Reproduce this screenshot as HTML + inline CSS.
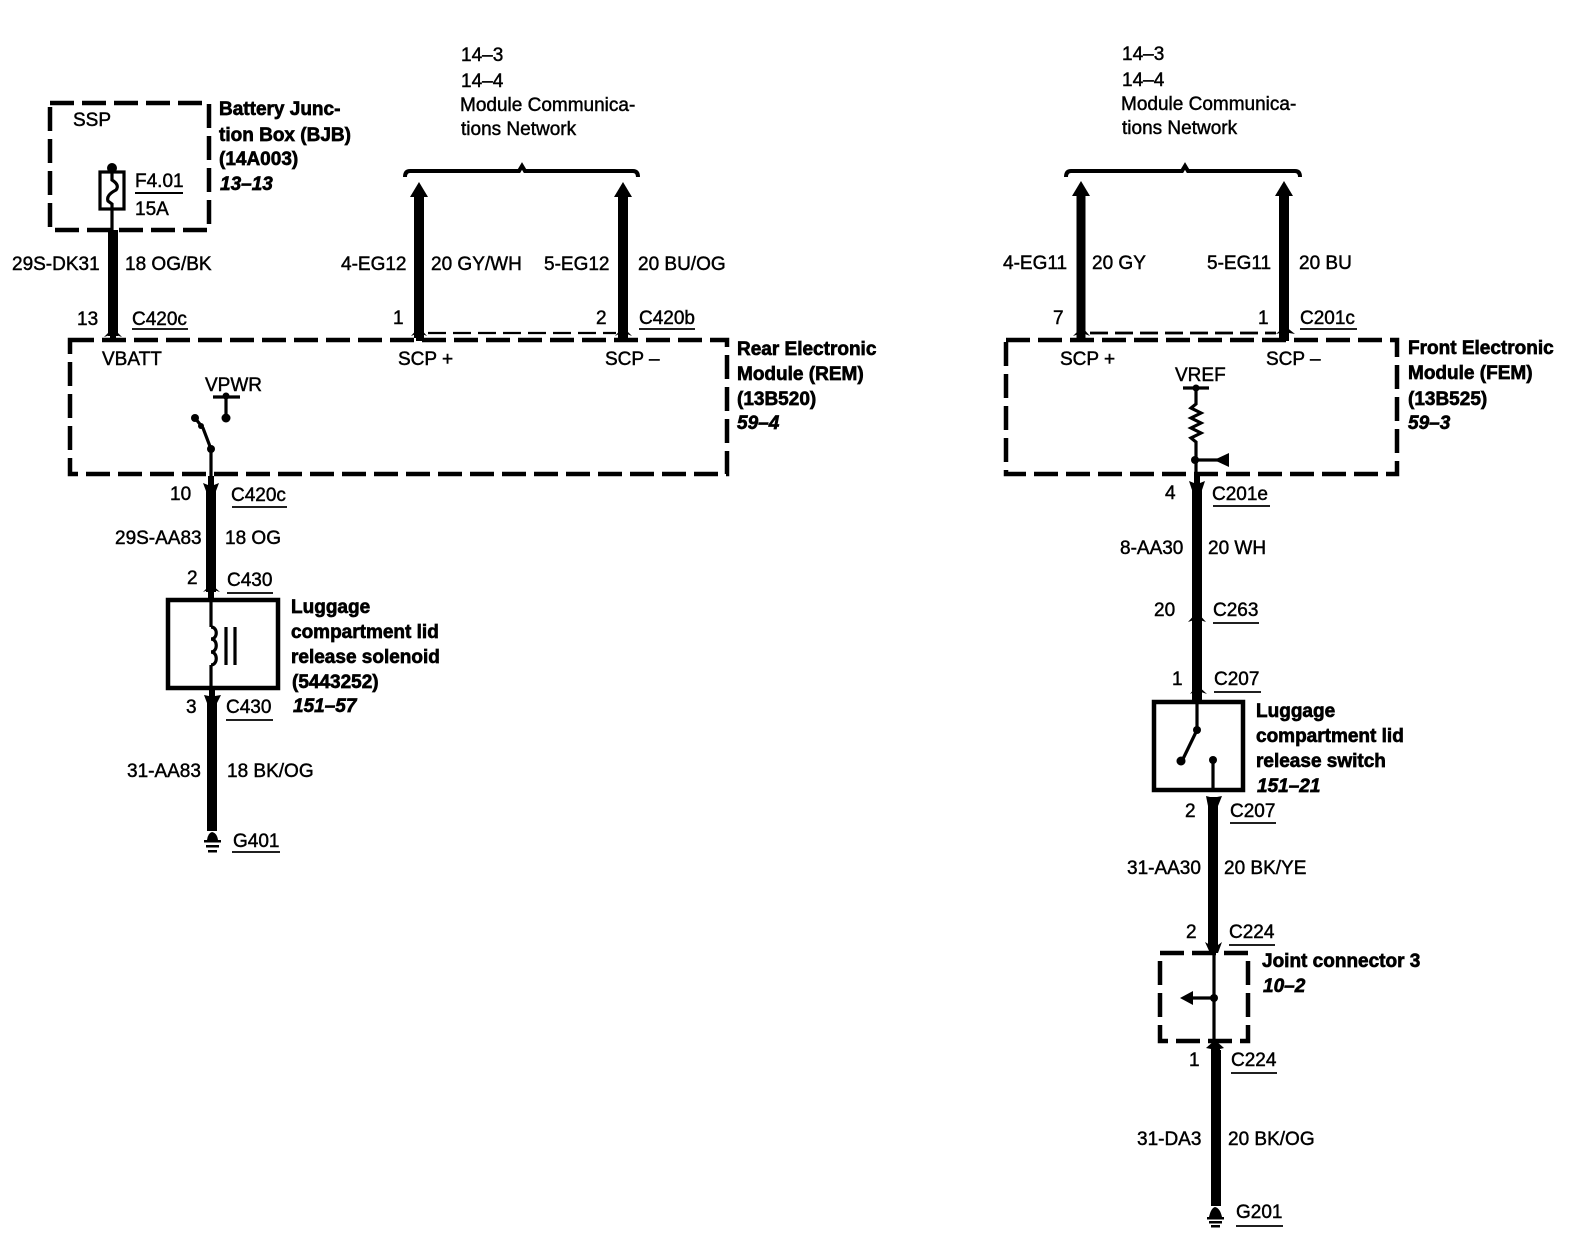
<!DOCTYPE html>
<html><head><meta charset="utf-8"><style>
html,body{margin:0;padding:0;background:#fff}
svg{display:block}
text{font-family:"Liberation Sans",sans-serif;font-size:19px;fill:#000;stroke:#000;stroke-width:.45px}
.b{font-weight:bold;stroke-width:.65px}
.i{font-weight:bold;font-style:italic;stroke-width:.65px}
.w{stroke:#000;stroke-width:10;fill:none}
.t{stroke:#000;stroke-width:3.2;fill:none}
.n{stroke:#000;stroke-width:2;fill:none}
.d{stroke:#000;stroke-width:4.5;fill:none;stroke-dasharray:24 8}
.f{stroke:none;fill:#000}
</style></head><body>
<svg width="1570" height="1248" viewBox="0 0 1570 1248" xmlns="http://www.w3.org/2000/svg">
<!-- Dashed boxes -->
<rect class="d" x="50" y="103" width="159" height="127"/>
<rect class="d" x="70" y="340" width="657" height="134"/>
<rect class="d" x="1006" y="340" width="391" height="134"/>
<rect class="d" x="1160" y="953" width="88" height="88"/>

<!-- BJB fuse -->
<circle class="f" cx="112" cy="168" r="5"/>
<line class="t" x1="112" y1="168" x2="112" y2="230"/>
<rect x="100" y="172" width="24" height="37" fill="#fff" stroke="#000" stroke-width="3.2"/>
<path class="t" d="M112 172 V180 Q120 185 116 190 Q106 195 108 201 L112 204 V209"/>
<line class="n" x1="135" y1="193" x2="183" y2="193"/>

<!-- VBATT wire -->
<line class="w" x1="113" y1="230" x2="113" y2="336"/>
<path class="f" d="M104 337 L113 328 L122 337 L116 335 V341 H110 V335 Z"/>

<!-- REM SCP wires and arrows -->
<line class="w" x1="419" y1="195" x2="419" y2="338"/>
<path class="f" d="M419 182 L428 197 H410 Z"/>
<path class="f" d="M411 336 L419 327 L427 336 L422 334 V341 H416 V334 Z"/>
<line class="w" x1="623" y1="195" x2="623" y2="338"/>
<path class="f" d="M623 182 L632 197 H614 Z"/>
<path class="f" d="M615 336 L623 327 L632 336 L627 334 V341 H619 V334 Z"/>
<line x1="428" y1="333" x2="616" y2="333" stroke="#000" stroke-width="2.2" stroke-dasharray="18 7"/>
<path d="M405 177 Q405 171 410 171 H519 L522 166 L525 171 H633 Q638 171 638 177" fill="none" stroke="#000" stroke-width="4"/>

<!-- FEM SCP wires and arrows -->
<line class="w" x1="1081" y1="195" x2="1081" y2="338" style="stroke-width:9"/>
<path class="f" d="M1081 181 L1090 196 H1072 Z"/>
<path class="f" d="M1073 336 L1082 327 L1090 336 L1085 334 V341 H1079 V334 Z"/>
<line class="w" x1="1284" y1="195" x2="1284" y2="338"/>
<path class="f" d="M1284 181 L1293 196 H1275 Z"/>
<path class="f" d="M1276 334 L1285 326 L1295 334 L1289 333 V341 H1280 V333 Z"/>
<line x1="1090" y1="333" x2="1276" y2="333" stroke="#000" stroke-width="2.8" stroke-dasharray="18 7"/>
<path d="M1066 177 Q1066 171 1071 171 H1182 L1185 166 L1188 171 H1295 Q1300 171 1300 177" fill="none" stroke="#000" stroke-width="4"/>

<!-- VPWR and switch -->
<line class="t" x1="213" y1="397" x2="240" y2="397"/>
<line class="t" x1="226" y1="397" x2="226" y2="418"/>
<circle class="f" cx="226" cy="396" r="3.5"/>
<circle class="f" cx="226" cy="418" r="4.5"/>
<circle class="f" cx="195" cy="418" r="4"/>
<circle class="f" cx="211" cy="449" r="4"/>
<path class="t" d="M195 418 L203 428 L211 449 V484"/>
<circle class="f" cx="201" cy="426" r="3"/>

<!-- C420c lower wire -->
<line class="w" x1="211" y1="488" x2="211" y2="592"/>
<path class="f" d="M203 483 L208 485 V476 H214 V485 L219 483 L216 491 H206 Z"/>
<path class="f" d="M203 592 L211 584 L220 592 L214 590 V600 H208 V590 Z"/>

<!-- Solenoid -->
<rect x="168" y="600" width="110" height="88" fill="none" stroke="#000" stroke-width="4.5"/>
<line class="t" x1="211" y1="600" x2="211" y2="627"/>
<line class="t" x1="211" y1="665" x2="211" y2="688"/>
<path class="t" d="M211 627 C218 627 218 639 211 639 C218 639 218 652 211 652 C218 652 218 665 211 665"/>
<line class="t" x1="226" y1="627" x2="226" y2="665"/>
<line class="t" x1="235" y1="627" x2="235" y2="665"/>
<line class="w" x1="212" y1="698" x2="212" y2="831"/>
<path class="f" d="M204 695 L209 696 V688 H215 V696 L221 695 L217 703 H207 Z"/>

<!-- G401 ground -->
<path class="f" d="M207 840 Q208 833 212 832 Q217 833 218 840 Z"/>
<rect class="f" x="204" y="840" width="17" height="2.5"/>
<rect class="f" x="206" y="845" width="13" height="2.5"/>
<rect class="f" x="208" y="850" width="9" height="2.5"/>

<!-- VREF -->
<line class="t" x1="1183" y1="388" x2="1209" y2="388"/>
<circle class="f" cx="1196" cy="388" r="3.5"/>
<path class="t" d="M1196 388 V404 L1191 408 L1201 413 L1191 418 L1201 423 L1191 428 L1201 433 L1191 438 L1196 442 V482"/>
<circle class="f" cx="1195" cy="460" r="4"/>
<line class="t" x1="1195" y1="460" x2="1218" y2="460"/>
<path class="f" d="M1214 460 L1229 453 V467 Z"/>

<!-- FEM lower wire -->
<line class="w" x1="1197" y1="486" x2="1197" y2="700"/>
<path class="f" d="M1189 481 L1194 483 V474 H1200 V483 L1205 481 L1202 490 H1192 Z"/>
<path class="f" d="M1188 622 L1197 612 L1206 622 L1200 620 V626 H1194 V620 Z"/>
<path class="f" d="M1190 694 L1197 685 L1207 694 L1201 692 V702 H1194 V692 Z"/>

<!-- Switch box -->
<rect x="1154" y="702" width="89" height="88" fill="none" stroke="#000" stroke-width="4.5"/>
<line class="t" x1="1197" y1="702" x2="1197" y2="730"/>
<circle class="f" cx="1197" cy="730" r="4"/>
<line class="t" x1="1197" y1="730" x2="1182" y2="761"/>
<circle class="f" cx="1181" cy="761" r="4.5"/>
<circle class="f" cx="1213" cy="760" r="4"/>
<line class="t" x1="1213" y1="760" x2="1213" y2="792"/>

<!-- lower right wires -->
<line class="w" x1="1213" y1="800" x2="1213" y2="945"/>
<path class="f" d="M1206 796 L1210 797 H1217 L1222 796 L1218 806 H1208 Z"/>
<path class="f" d="M1205 942 L1210 945 H1218 L1222 942 L1218 953 H1210 Z"/>
<line class="t" x1="1214" y1="950" x2="1214" y2="1044"/>
<circle class="f" cx="1214" cy="998" r="4"/>
<line class="t" x1="1190" y1="998" x2="1214" y2="998"/>
<path class="f" d="M1180 998 L1193 991 V1005 Z"/>
<path class="f" d="M1206 1048 L1215 1040 L1224 1048 L1220 1049 V1052 H1211 V1049 Z"/>
<line class="w" x1="1216" y1="1050" x2="1216" y2="1206"/>

<!-- G201 ground -->
<path class="f" d="M1209 1217 Q1211 1208 1215 1207 Q1220 1208 1222 1217 Z"/>
<rect class="f" x="1207" y="1217" width="17" height="2.5"/>
<rect class="f" x="1209" y="1221" width="13" height="2.5"/>
<rect class="f" x="1211" y="1225" width="9" height="2.5"/>

<!-- Underlines -->
<g stroke="#000" stroke-width="1.8">
<line x1="132" y1="329" x2="188" y2="329"/>
<line x1="639" y1="329" x2="695" y2="329"/>
<line x1="1300" y1="329" x2="1357" y2="329"/>
<line x1="232" y1="507" x2="287" y2="507"/>
<line x1="227" y1="593" x2="273" y2="593"/>
<line x1="226" y1="720" x2="273" y2="720"/>
<line x1="232" y1="852" x2="280" y2="852"/>
<line x1="1213" y1="506" x2="1270" y2="506"/>
<line x1="1213" y1="623" x2="1259" y2="623"/>
<line x1="1214" y1="692" x2="1261" y2="692"/>
<line x1="1230" y1="823" x2="1276" y2="823"/>
<line x1="1229" y1="945" x2="1275" y2="945"/>
<line x1="1231" y1="1073" x2="1277" y2="1073"/>
<line x1="1236" y1="1226" x2="1283" y2="1226"/>
</g>

<!-- Labels -->
<text x="461" y="61">14–3</text>
<text x="461" y="87">14–4</text>
<text x="460" y="111">Module Communica-</text>
<text x="461" y="135">tions Network</text>
<text x="1122" y="60">14–3</text>
<text x="1122" y="86">14–4</text>
<text x="1121" y="110">Module Communica-</text>
<text x="1122" y="134">tions Network</text>

<text x="73" y="126">SSP</text>
<text x="135" y="187">F4.01</text>
<text x="135" y="215">15A</text>
<text class="b" x="219" y="115">Battery Junc-</text>
<text class="b" x="219" y="141">tion Box (BJB)</text>
<text class="b" x="219" y="165">(14A003)</text>
<text class="i" x="220" y="190">13–13</text>

<text x="12" y="270">29S-DK31</text>
<text x="125" y="270">18 OG/BK</text>
<text x="77" y="325">13</text>
<text x="132" y="325">C420c</text>
<text x="102" y="365">VBATT</text>

<text x="341" y="270">4-EG12</text>
<text x="431" y="270">20 GY/WH</text>
<text x="544" y="270">5-EG12</text>
<text x="638" y="270">20 BU/OG</text>
<text x="393" y="324">1</text>
<text x="596" y="324">2</text>
<text x="639" y="324">C420b</text>
<text x="398" y="365">SCP +</text>
<text x="605" y="365">SCP –</text>
<text x="205" y="391">VPWR</text>

<text class="b" x="737" y="355">Rear Electronic</text>
<text class="b" x="737" y="380">Module (REM)</text>
<text class="b" x="737" y="405">(13B520)</text>
<text class="i" x="737" y="429">59–4</text>

<text x="170" y="500">10</text>
<text x="231" y="501">C420c</text>
<text x="115" y="544">29S-AA83</text>
<text x="225" y="544">18 OG</text>
<text x="187" y="584">2</text>
<text x="227" y="586">C430</text>
<text x="186" y="713">3</text>
<text x="226" y="713">C430</text>
<text x="127" y="777">31-AA83</text>
<text x="227" y="777">18 BK/OG</text>
<text x="233" y="847">G401</text>

<text class="b" x="291" y="613">Luggage</text>
<text class="b" x="291" y="638">compartment lid</text>
<text class="b" x="291" y="663">release solenoid</text>
<text class="b" x="292" y="688">(5443252)</text>
<text class="i" x="293" y="712">151–57</text>

<text x="1003" y="269">4-EG11</text>
<text x="1092" y="269">20 GY</text>
<text x="1207" y="269">5-EG11</text>
<text x="1299" y="269">20 BU</text>
<text x="1053" y="324">7</text>
<text x="1258" y="324">1</text>
<text x="1300" y="324">C201c</text>
<text x="1060" y="365">SCP +</text>
<text x="1266" y="365">SCP –</text>
<text x="1175" y="381">VREF</text>

<text class="b" x="1408" y="354">Front Electronic</text>
<text class="b" x="1408" y="379">Module (FEM)</text>
<text class="b" x="1408" y="405">(13B525)</text>
<text class="i" x="1408" y="429">59–3</text>

<text x="1165" y="499">4</text>
<text x="1212" y="500">C201e</text>
<text x="1120" y="554">8-AA30</text>
<text x="1208" y="554">20 WH</text>
<text x="1154" y="616">20</text>
<text x="1213" y="616">C263</text>
<text x="1172" y="685">1</text>
<text x="1214" y="685">C207</text>
<text class="b" x="1256" y="717">Luggage</text>
<text class="b" x="1256" y="742">compartment lid</text>
<text class="b" x="1256" y="767">release switch</text>
<text class="i" x="1257" y="792">151–21</text>
<text x="1185" y="817">2</text>
<text x="1230" y="817">C207</text>
<text x="1127" y="874">31-AA30</text>
<text x="1224" y="874">20 BK/YE</text>
<text x="1186" y="938">2</text>
<text x="1229" y="938">C224</text>
<text class="b" x="1262" y="967">Joint connector 3</text>
<text class="i" x="1263" y="992">10–2</text>
<text x="1189" y="1066">1</text>
<text x="1231" y="1066">C224</text>
<text x="1137" y="1145">31-DA3</text>
<text x="1228" y="1145">20 BK/OG</text>
<text x="1236" y="1218">G201</text>
</svg>
</body></html>
